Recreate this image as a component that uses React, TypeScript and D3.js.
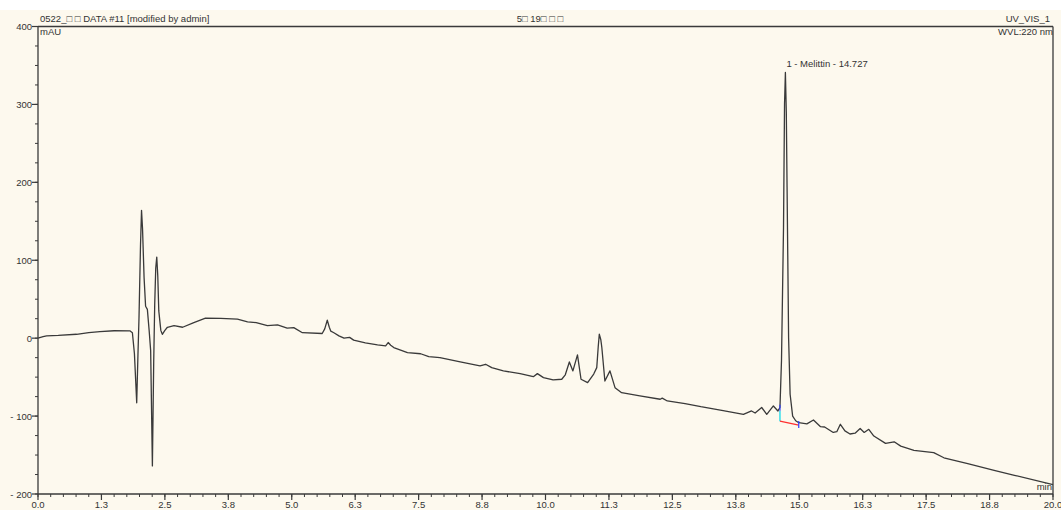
import * as d3 from "d3";

// chromatogram trace (retention time in min, signal in mAU)
const times = [
  0.0, 0.1, 0.17, 0.4, 0.76, 1.0, 1.22, 1.5, 1.81, 1.86, 1.9, 1.945, 1.97, 1.99, 2.02, 2.04, 2.06, 2.09,
  2.12, 2.155, 2.19, 2.22, 2.254, 2.28, 2.3, 2.32, 2.34, 2.36, 2.38, 2.42, 2.45, 2.5, 2.55, 2.68, 2.85,
  3.07, 3.3, 3.6, 3.93, 4.13, 4.3, 4.52, 4.72, 4.91, 5.04, 5.21, 5.6, 5.65, 5.7, 5.74, 5.77, 5.83, 5.93,
  6.03, 6.14, 6.22, 6.45, 6.69, 6.85, 6.9, 6.95, 7.01, 7.28, 7.54, 7.7, 7.92, 8.32, 8.71, 8.82, 8.94,
  9.17, 9.5, 9.76, 9.84, 9.96, 10.15, 10.32, 10.39, 10.47, 10.54, 10.63, 10.7, 10.83, 10.95, 11.01,
  11.04, 11.06, 11.09, 11.11, 11.17, 11.27, 11.37, 11.5, 11.86, 12.26, 12.3, 12.4, 12.75, 13.06, 13.5,
  13.9, 14.06, 14.13, 14.26, 14.36, 14.49, 14.58, 14.62, 14.65, 14.69, 14.71, 14.727, 14.745, 14.76,
  14.79, 14.82, 14.87, 14.93, 14.99, 15.15, 15.28, 15.42, 15.5, 15.67, 15.74, 15.81, 15.9, 16.0, 16.1,
  16.2, 16.28, 16.37, 16.47, 16.7, 16.87, 17.0, 17.26, 17.65, 17.85, 18.32, 18.84, 19.24, 20.0,
];
const signal = [
  0, 2, 3, 3.5, 5, 7, 8.5, 9.5, 9.4, 7, -20, -83, -20, 26, 120, 164, 140, 78,
  41, 37, 10, -16, -164, -30, 44, 90, 104, 80, 35, 10, 5, 10, 14, 16, 14,
  20, 25.7, 25.5, 24.4, 21, 20, 16, 17, 13, 13.5, 7, 6, 12, 23, 14, 9, 7, 3,
  0, 1, -2.5, -6, -8.6, -10, -5.6, -9, -12, -18.5, -20, -23.6, -25, -30.5, -35.6, -33.5, -37.8,
  -42, -45.5, -49.4, -45.5, -50.6, -53.6, -52.7, -47, -30.5, -42, -21.5, -52.7, -57, -46, -37.8,
  -10, 5, -2, -12, -55, -42, -63.5, -70, -74, -78.4, -77, -80.6, -84, -88, -93,
  -97.7, -93.4, -96, -89, -97.7, -87, -93.4, -89, -29, 142, 301, 341, 290, 194,
  1, -72, -100, -106, -108.5, -110, -105, -113.6, -114, -121, -120, -110.5, -119, -123, -122,
  -116, -121, -117, -125.6, -135, -133, -138.6, -144, -147, -153.5, -161, -169.7, -176, -188,
];

const xTicks = [0, 1.25, 2.5, 3.75, 5, 6.25, 7.5, 8.75, 10, 11.25, 12.5, 13.75, 15, 16.25, 17.5, 18.75, 20];
const xTickLabels = ["0.0", "1.3", "2.5", "3.8", "5.0", "6.3", "7.5", "8.8", "10.0", "11.3", "12.5", "13.8", "15.0", "16.3", "17.5", "18.8", "20.0"];
const yTicks = [400, 300, 200, 100, 0, -100, -200];
const yTickLabels = ["400", "300", "200", "100", "0", "- 100", "- 200"];

// integrated peak: retention time, label, baseline start/end (min, mAU)
const peakTime = 14.727;
const peakHeight = 341;
const peakLabel = "1 - Melittin - 14.727";
const baseStart = [14.62, -93, -106.5];
const baseEnd = [14.99, -111.5];

const W = 1061;
const H = 510;
const left = 38;
const right = 1053;
const top = 26.5;
const bottom = 494;
const ink = "#3a3a3a";
const font = "'Liberation Sans', Arial, sans-serif";

export default function App() {
  const x = d3.scaleLinear().domain([0, 20]).range([left, right]);
  const y = d3.scaleLinear().domain([-200, 400]).range([bottom, top]);

  const pts = times.map((t, i) => [t, signal[i]] as [number, number]);
  const line = d3
    .line<[number, number]>()
    .x((d) => x(d[0]))
    .y((d) => y(d[1]));

  const xMinor = d3.range(0, 20.001, 0.25);
  const yMinor = d3.range(-200, 400.001, 25);

  return (
    <svg
      width={W}
      height={H}
      style={{ position: "absolute", left: 0, top: 0, display: "block" }}
      fontFamily={font}
    >
      <rect x={0} y={0} width={W} height={H} fill="#fff" />
      <rect x={0} y={10} width={W} height={H - 10} fill="#fdf9ee" />

      {/* frame */}
      <line x1={left} x2={right} y1={top} y2={top} stroke={ink} strokeWidth={1.3} />
      <line x1={right} x2={right} y1={top} y2={bottom} stroke={ink} strokeWidth={1.3} />
      <line x1={left} x2={left} y1={top} y2={bottom} stroke={ink} strokeWidth={1.3} />
      <line x1={left} x2={right} y1={bottom} y2={bottom} stroke={ink} strokeWidth={1.3} />

      {/* x ticks */}
      {xMinor.map((t) => (
        <line key={"xm" + t} x1={x(t)} x2={x(t)} y1={bottom} y2={bottom + 3} stroke={ink} strokeWidth={1} />
      ))}
      {xTicks.map((t, i) => (
        <g key={"x" + t}>
          <line x1={x(t)} x2={x(t)} y1={bottom} y2={bottom + 6} stroke={ink} strokeWidth={1.2} />
          <text x={x(t)} y={508} textAnchor="middle" fontSize={9.5} fill="#333">
            {xTickLabels[i]}
          </text>
        </g>
      ))}

      {/* y ticks */}
      {yMinor.map((v) => (
        <line key={"ym" + v} x1={left - 3} x2={left} y1={y(v)} y2={y(v)} stroke={ink} strokeWidth={1} />
      ))}
      {yTicks.map((v, i) => (
        <g key={"y" + v}>
          <line x1={left - 6} x2={left} y1={y(v)} y2={y(v)} stroke={ink} strokeWidth={1.2} />
          <text x={left - 6} y={y(v) + 3.5} textAnchor="end" fontSize={9.5} fill="#333">
            {yTickLabels[i]}
          </text>
        </g>
      ))}

      {/* header texts */}
      <text x={40} y={22} fontSize={9.5} fill="#333">
        0522_□ □ DATA #11 [modified by admin]
      </text>
      <text x={540} y={22} fontSize={9.5} fill="#333" textAnchor="middle">
        5□ 19□ □ □
      </text>
      <text x={1050} y={22} fontSize={9.5} fill="#333" textAnchor="end">
        UV_VIS_1
      </text>
      <text x={40} y={35} fontSize={9.5} fill="#333">
        mAU
      </text>
      <text x={1053} y={35} fontSize={9.5} fill="#333" textAnchor="end">
        WVL:220 nm
      </text>
      <text x={1052} y={490} fontSize={9.5} fill="#333" textAnchor="end">
        min
      </text>

      {/* trace */}
      <path d={line(pts) ?? ""} fill="none" stroke={ink} strokeWidth={1.3} strokeLinejoin="round" />

      {/* peak integration marks */}
      <line
        x1={x(baseStart[0])}
        x2={x(baseStart[0])}
        y1={y(baseStart[1])}
        y2={y(baseStart[2])}
        stroke="#00d8e8"
        strokeWidth={1.2}
      />
      <line
        x1={x(baseStart[0])}
        x2={x(baseEnd[0])}
        y1={y(baseStart[2])}
        y2={y(baseEnd[1])}
        stroke="#ff3030"
        strokeWidth={1.2}
      />
      <line
        x1={x(baseStart[0])}
        x2={x(baseStart[0])}
        y1={y(baseStart[1]) - 6}
        y2={y(baseStart[1])}
        stroke="#3040ff"
        strokeWidth={1.2}
      />
      <line
        x1={x(baseEnd[0])}
        x2={x(baseEnd[0])}
        y1={y(baseEnd[1]) - 4}
        y2={y(baseEnd[1]) + 3}
        stroke="#3040ff"
        strokeWidth={1.2}
      />
      <text x={x(peakTime) + 1} y={y(peakHeight) - 5} fontSize={9.5} fill="#333">
        {peakLabel}
      </text>
    </svg>
  );
}
